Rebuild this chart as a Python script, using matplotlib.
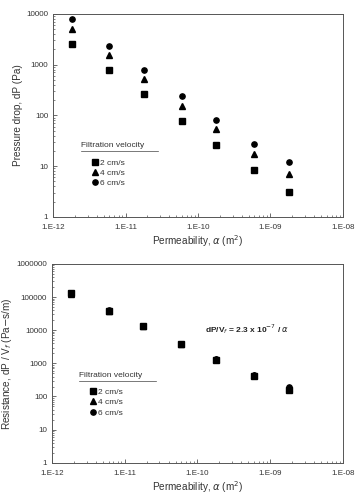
import matplotlib.pyplot as plt
from matplotlib.ticker import LogLocator, FixedLocator, FuncFormatter, NullFormatter

plt.rcParams['font.family'] = ['Liberation Sans', 'DejaVu Sans']

permeability = [1.8e-12, 6e-12, 1.8e-11, 6e-11, 1.8e-10, 6e-10, 1.8e-9]
velocity_labels = ['2 cm/s', '4 cm/s', '6 cm/s']
markers = ['s', '^', 'o']

dp_2 = [2600, 785, 260, 77, 26, 8.3, 3.1]
dp_4 = [5040, 1550, 514, 155, 53, 17, 7]
dp_6 = [7840, 2370, 785, 237, 82, 27.6, 12]

res_2 = [130000, 39000, 13000, 3900, 1300, 420, 155]
res_4 = [126000, 39000, 13000, 3900, 1330, 430, 175]
res_6 = [131000, 40000, 13100, 3950, 1370, 460, 200]

x_ticks = [1e-12, 1e-11, 1e-10, 1e-9, 1e-8]
x_tick_labels = ['1.E-12', '1.E-11', '1.E-10', '1.E-09', '1.E-08']

fig = plt.figure(figsize=(3.59, 4.95), dpi=100)
ax1 = fig.add_axes([0.148, 0.562, 0.807, 0.410])
ax2 = fig.add_axes([0.145, 0.065, 0.810, 0.402])


def style(ax, ymax, ylabel):
    ax.set_xscale('log')
    ax.set_yscale('log')
    ax.set_xlim(1e-12, 1e-8)
    ax.set_ylim(1, ymax)
    ax.xaxis.set_major_locator(FixedLocator(x_ticks))
    ax.set_xticklabels(x_tick_labels)
    ax.xaxis.set_minor_locator(LogLocator(base=10, subs=range(2, 10)))
    ax.xaxis.set_minor_formatter(NullFormatter())
    ax.yaxis.set_major_locator(LogLocator(base=10, numticks=10))
    ax.yaxis.set_major_formatter(FuncFormatter(lambda v, p: '%d' % round(v)))
    ax.yaxis.set_minor_locator(LogLocator(base=10, subs=range(2, 10), numticks=10))
    ax.yaxis.set_minor_formatter(NullFormatter())
    ax.tick_params(which='both', direction='in', colors='#555555', labelcolor='#333333', labelsize=5.8)
    ax.tick_params(which='major', length=3, width=0.6)
    ax.tick_params(which='minor', length=1.5, width=0.5)
    ax.tick_params(axis='x', pad=5)
    for s in ax.spines.values():
        s.set_color('#555555')
        s.set_linewidth(0.7)
    ax.set_xlabel(r'Permeability, $\alpha$ (m$^2$)', fontsize=7.2, color='#333333', labelpad=1.5)
    ax.set_ylabel(ylabel, fontsize=7.2, color='#333333', labelpad=2)


style(ax1, 10000, 'Pressure drop, dP (Pa)')
style(ax2, 1000000, r'Resistance, dP / V$_f$ (Pa$-$s/m)')

for ys, m, lab in zip([dp_2, dp_4, dp_6], markers, velocity_labels):
    ax1.plot(permeability, ys, linestyle='none', marker=m, color='black', markersize=3.8, label=lab)
for ys, m, lab in zip([res_2, res_4, res_6], markers, velocity_labels):
    ax2.plot(permeability, ys, linestyle='none', marker=m, color='black', markersize=3.8, label=lab)

for ax, tx, ty in [(ax1, 0.097, 0.35), (ax2, 0.092, 0.44)]:
    ax.text(tx, ty, 'Filtration velocity', transform=ax.transAxes, fontsize=6, color='#333333', va='center')
    ax.plot([tx, tx + 0.265], [ty - 0.028, ty - 0.028], transform=ax.transAxes, color='#444444', lw=0.5)
    ax.legend(loc='upper left', bbox_to_anchor=(tx + 0.02, ty - 0.035), frameon=False, fontsize=6,
              handlelength=0.6, handletextpad=0.3, labelspacing=0.3, borderpad=0.2, labelcolor='#333333')

ax2.text(0.525, 0.67, r'dP/V$_f$ = 2.3 x 10$^{-7}$ / $\alpha$', transform=ax2.transAxes,
         fontsize=6, fontweight='bold', color='#222222', va='center')

fig.savefig('out.png', dpi=100)
